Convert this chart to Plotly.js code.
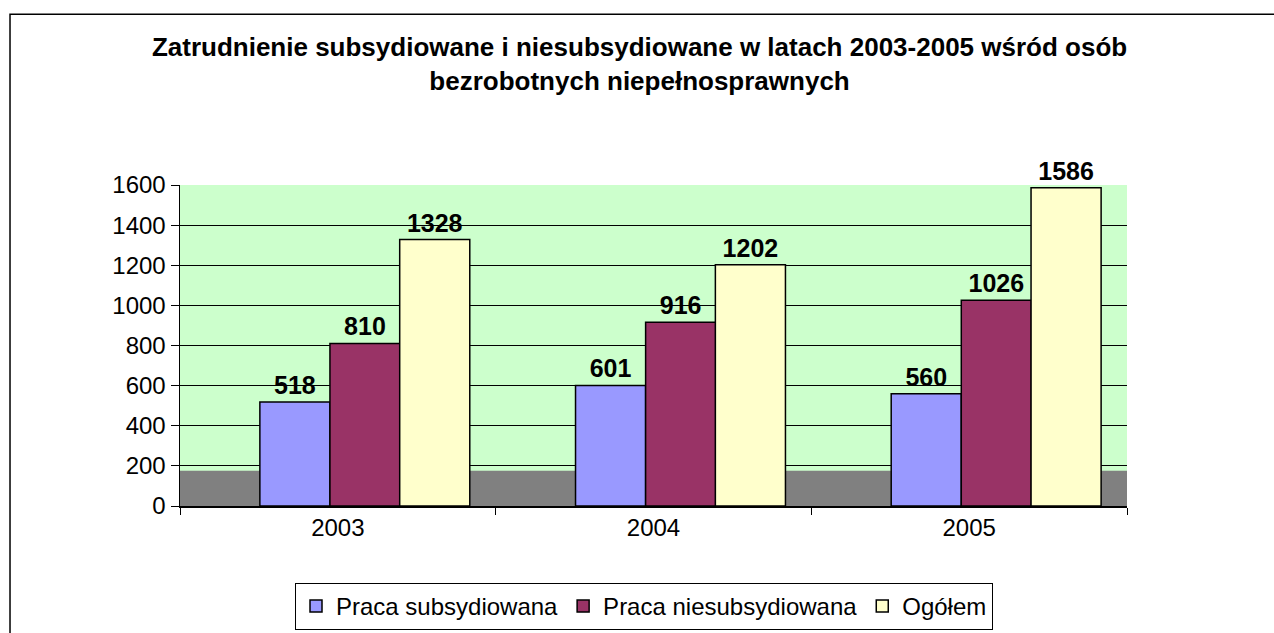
<!DOCTYPE html>
<html>
<head>
<meta charset="utf-8">
<script src="https://cdn.plot.ly/plotly-3.0.1.min.js"></script>
<style>
  html, body { margin: 0; padding: 0; background: #ffffff; }
  #chart { width: 1274px; height: 633px; }
</style>
</head>
<body>
<div id="chart"></div>
<script>
const years = ['2003', '2004', '2005'];
const subsydiowana = [518, 601, 560];
const niesubsydiowana = [810, 916, 1026];
const ogolem = [1328, 1202, 1586];
const seriesNames = ['Praca subsydiowana', 'Praca niesubsydiowana', 'Ogółem'];
const yTicks = [0, 200, 400, 600, 800, 1000, 1200, 1400, 1600];

const FONT = 'Arial, "Liberation Sans", sans-serif';
const colors = ['#9999FF', '#993366', '#FFFFCC'];
const barWidth = 0.222;
const offsets = [-0.247, -0.025, 0.196];
const values = [subsydiowana, niesubsydiowana, ogolem];

const traces = values.map((v, i) => ({
  type: 'bar',
  name: seriesNames[i],
  x: years,
  y: v,
  width: barWidth,
  offset: offsets[i],
  marker: { color: colors[i], line: { color: '#000000', width: 1.5 } },
  text: v.map(String),
  textposition: 'outside',
  textfont: { family: FONT, size: 25, color: '#000000', weight: 'bold' },
  cliponaxis: false,
  constraintext: 'none',
  hoverinfo: 'x+y+name'
}));

const layout = {
  width: 1274,
  height: 633,
  margin: { l: 180, r: 147, t: 185, b: 127, pad: 0 },
  paper_bgcolor: '#ffffff',
  plot_bgcolor: '#CCFFCC',
  font: { family: FONT, color: '#000000', size: 24 },
  title: {
    text: '<b>Zatrudnienie subsydiowane i niesubsydiowane w latach 2003-2005 wśród osób<br>bezrobotnych niepełnosprawnych</b>',
    font: { family: FONT, size: 26, color: '#000000', lineposition: 'none' },
    xref: 'container', x: 0.502, xanchor: 'center',
    yref: 'container', y: 0.912, yanchor: 'top'
  },
  barmode: 'group',
  showlegend: true,
  legend: {
    orientation: 'h',
    xref: 'container', x: 0.5055, xanchor: 'center',
    yref: 'container', y: 0.079, yanchor: 'top',
    bordercolor: '#000000', borderwidth: 1,
    bgcolor: '#ffffff',
    font: { family: FONT, size: 24, color: '#000000' },
    itemwidth: 30,
    tracegroupgap: 0
  },
  xaxis: {
    type: 'category',
    range: [-0.5, 2.5],
    showline: true, linecolor: '#000000', linewidth: 1.5,
    ticks: 'outside', tickson: 'boundaries', ticklen: 7, tickcolor: '#000000',
    tickfont: { family: FONT, size: 24, color: '#000000' },
    showgrid: false,
    fixedrange: true
  },
  yaxis: {
    range: [0, 1600],
    tickvals: yTicks,
    ticks: 'outside', ticklen: 8, tickcolor: '#000000',
    showline: true, linecolor: '#000000', linewidth: 1.5,
    showgrid: true, gridcolor: '#000000', gridwidth: 1,
    zeroline: false,
    tickfont: { family: FONT, size: 24, color: '#000000' },
    fixedrange: true
  },
  shapes: [
    { type: 'rect', xref: 'paper', yref: 'paper', x0: 0, x1: 1, y0: 0, y1: 0.11,
      fillcolor: '#808080', line: { width: 0 }, layer: 'below' },
    { type: 'rect', xref: 'paper', yref: 'paper', x0: -0.1795, x1: 1.3, y0: -0.5, y1: 1.532,
      fillcolor: 'rgba(0,0,0,0)', line: { color: '#000000', width: 1.5 } }
  ]
};

Plotly.newPlot('chart', traces, layout, { displayModeBar: false, staticPlot: true });
</script>
</body>
</html>
